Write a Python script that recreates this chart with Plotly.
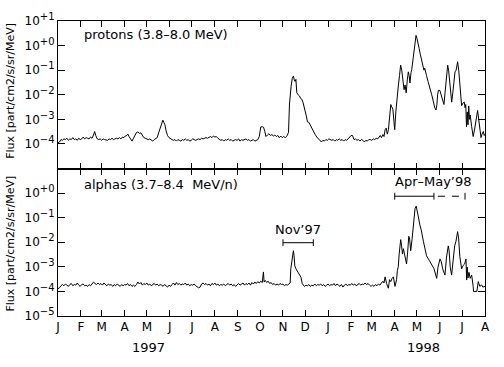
import pandas as pd
import plotly.graph_objects as go

# ---------------- data (day offset from 1997-01-01, flux) ----------------
p_day = [
    0, 2, 4, 6, 8, 10, 12, 14, 16, 18,
    20, 22, 24, 26, 28, 30, 32, 34, 36, 38,
    40, 42, 44, 46, 48, 49.5, 51, 53, 55, 57,
    59, 61, 63, 65, 67, 69, 71, 73, 75, 77,
    79, 81, 83, 85, 87, 89, 91, 93, 94.5, 96,
    98, 100, 102, 104, 106, 108, 110, 112, 114, 116,
    118, 120, 122, 124, 126, 128, 130, 132, 134, 136,
    138, 140, 141.7, 143, 144.5, 146, 148, 150, 152, 154,
    156, 158, 160, 162, 164, 166, 168, 170, 172, 174,
    176, 178, 180, 182, 184, 186, 188, 190, 192, 194,
    196, 198, 200, 202, 204, 206, 208, 210, 212, 214,
    216, 218, 220, 222, 224, 226, 228, 230, 232, 234,
    236, 238, 240, 242, 244, 246, 248, 250, 252, 254,
    256, 258, 260, 262, 264, 266, 268, 270, 272, 274,
    276, 277.7, 279.5, 281, 283, 285, 287, 289, 291, 293,
    295, 297, 299, 301, 303, 305, 307, 309, 310.5, 311.5,
    312.8, 313.8, 315, 316.5, 318.2, 319.2, 320.4, 321.5, 322.7, 324.5,
    326.3, 328, 329.4, 331, 332.5, 333.9, 335.5, 337.1, 339, 340.7,
    342.5, 344, 345.5, 347.5, 349.7, 352, 354, 356, 358, 360,
    362, 364, 366, 368, 370, 372, 374, 376, 378, 380,
    382, 384, 386, 388, 390, 392, 394, 396, 398, 400,
    402, 404, 406, 408, 410, 412, 414, 416, 418, 420,
    422, 424, 426, 428, 430, 432, 434, 435.5, 437, 439,
    440.5, 442, 443.5, 445, 446.5, 448, 449.7, 451, 452.5, 454,
    455, 456.5, 458.5, 460, 461.5, 463, 464.5, 466, 467.6, 469,
    470.5, 472, 473.4, 474.5, 475.6, 477, 478, 480, 482, 483.8,
    485, 486.5, 488, 489.5, 491.5, 493, 494.5, 495.5, 496.5, 498,
    500, 502.7, 505, 507, 509, 510.8, 512, 513, 514, 516,
    517.5, 519, 520, 521.5, 523, 524.3, 525.5, 526.6, 527.8, 529,
    530.6, 532, 533.5, 535, 536.5, 538, 540, 541.5, 543, 545.4,
    547, 549, 550, 551, 552, 553, 554, 555, 556, 557,
    559, 561, 563, 565, 567, 568.5, 570, 571.6, 573, 574.7,
    576, 577,
]
p_flux = [
    1.1e-4, 1.2e-4, 1.5e-4, 1.4e-4, 1.6e-4, 1.5e-4, 1.7e-4, 1.4e-4, 1.6e-4, 1.5e-4,
    1.8e-4, 1.5e-4, 1.6e-4, 1.4e-4, 1.7e-4, 1.5e-4, 1.6e-4, 1.9e-4, 1.6e-4, 1.8e-4,
    1.7e-4, 1.6e-4, 1.9e-4, 1.7e-4, 2.3e-4, 3.2e-4, 2.2e-4, 1.6e-4, 1.5e-4, 1.6e-4,
    1.4e-4, 1.6e-4, 1.5e-4, 1.5e-4, 1.4e-4, 1.6e-4, 1.5e-4, 1.7e-4, 1.5e-4, 1.6e-4,
    1.7e-4, 1.6e-4, 1.8e-4, 1.6e-4, 1.9e-4, 1.8e-4, 2.1e-4, 2.2e-4, 2.5e-4, 2.0e-4,
    1.6e-4, 1.3e-4, 1.7e-4, 2.2e-4, 2.9e-4, 3.1e-4, 2.7e-4, 2.8e-4, 2.1e-4, 1.8e-4,
    1.7e-4, 1.6e-4, 1.5e-4, 1.6e-4, 1.4e-4, 1.3e-4, 1.5e-4, 1.7e-4, 1.8e-4, 2.8e-4,
    4.5e-4, 6.5e-4, 9.3e-4, 7.5e-4, 6.0e-4, 3.4e-4, 2.2e-4, 1.8e-4, 1.6e-4, 1.5e-4,
    1.4e-4, 1.5e-4, 1.3e-4, 1.5e-4, 1.4e-4, 1.3e-4, 1.5e-4, 1.4e-4, 1.6e-4, 1.4e-4,
    1.5e-4, 1.3e-4, 1.4e-4, 1.6e-4, 1.5e-4, 1.4e-4, 1.5e-4, 1.6e-4, 1.5e-4, 1.7e-4,
    1.6e-4, 1.7e-4, 1.8e-4, 1.7e-4, 1.9e-4, 2.0e-4, 1.8e-4, 2.1e-4, 1.9e-4, 2.0e-4,
    1.7e-4, 1.6e-4, 1.4e-4, 1.5e-4, 1.3e-4, 1.5e-4, 1.4e-4, 1.6e-4, 1.4e-4, 1.5e-4,
    1.3e-4, 1.4e-4, 1.5e-4, 1.4e-4, 1.6e-4, 1.3e-4, 1.5e-4, 1.4e-4, 1.5e-4, 1.6e-4,
    1.4e-4, 1.5e-4, 1.3e-4, 1.4e-4, 1.5e-4, 1.3e-4, 1.4e-4, 1.5e-4, 2.0e-4, 4.9e-4,
    5.0e-4, 4.8e-4, 3.2e-4, 2.0e-4, 2.3e-4, 2.6e-4, 2.2e-4, 2.4e-4, 2.1e-4, 2.3e-4,
    2.0e-4, 2.2e-4, 1.8e-4, 2.1e-4, 1.8e-4, 2.0e-4, 1.8e-4, 2.0e-4, 2.5e-4, 3.0e-4,
    4.2e-3, 1.6e-2, 2.2e-2, 4.6e-2, 5.8e-2, 4.0e-2, 3.5e-2, 4.2e-2, 1.2e-2, 1.0e-2,
    8.9e-3, 7.0e-3, 6.6e-3, 5.0e-3, 3.5e-3, 2.0e-3, 1.4e-3, 7.9e-4, 7.5e-4, 6.0e-4,
    4.6e-4, 4.0e-4, 2.8e-4, 2.4e-4, 1.9e-4, 1.6e-4, 1.5e-4, 1.2e-4, 1.4e-4, 1.3e-4,
    1.5e-4, 1.4e-4, 1.6e-4, 1.5e-4, 1.4e-4, 1.5e-4, 1.3e-4, 1.5e-4, 1.4e-4, 1.6e-4,
    1.4e-4, 1.5e-4, 1.3e-4, 1.5e-4, 1.4e-4, 1.6e-4, 1.8e-4, 2.2e-4, 2.2e-4, 1.5e-4,
    1.6e-4, 1.4e-4, 1.5e-4, 1.3e-4, 1.5e-4, 1.4e-4, 1.2e-4, 1.4e-4, 1.3e-4, 1.5e-4,
    1.5e-4, 1.4e-4, 1.6e-4, 1.5e-4, 1.7e-4, 1.6e-4, 1.9e-4, 2.2e-4, 1.8e-4, 2.4e-4,
    2.0e-4, 3.8e-4, 4.4e-4, 2.5e-4, 3.8e-4, 1.7e-3, 4.0e-3, 3.2e-3, 2.6e-3, 8.0e-4,
    3.8e-4, 2.0e-3, 1.2e-2, 2.5e-2, 6.0e-2, 1.6e-1, 1.0e-1, 4.0e-2, 1.6e-2, 2.5e-2,
    1.2e-2, 4.0e-2, 8.5e-2, 6.0e-2, 3.0e-2, 8.0e-2, 1.05e-1, 3.2e-1, 1.2, 2.6,
    2.0, 1.4, 7.7e-1, 4.5e-1, 2.3e-1, 1.5e-1, 1.0e-1, 1.2e-1, 8.0e-2, 6.0e-2,
    3.5e-2, 2.0e-2, 1.0e-2, 5.6e-3, 3.0e-3, 2.4e-3, 4.0e-3, 1.0e-2, 1.5e-2, 1.5e-2,
    1.1e-2, 6.5e-3, 5.6e-3, 4.0e-3, 1.2e-2, 2.5e-2, 8.0e-2, 1.6e-1, 1.0e-1, 4.0e-2,
    9.0e-3, 5.0e-3, 1.2e-2, 3.0e-2, 8.5e-2, 1.0e-1, 2.2e-1, 1.0e-1, 2.5e-2, 3.6e-3,
    4.5e-3, 5.0e-3, 3.0e-3, 4.0e-3, 5.0e-4, 2.0e-3, 6.0e-4, 3.5e-3, 1.0e-3, 1.5e-3,
    5.0e-4, 2.0e-4, 4.0e-4, 1.25e-3, 2.3e-3, 1.0e-3, 4.0e-4, 1.8e-4, 2.5e-4, 3.2e-4,
    2.2e-4, 2.5e-4,
]

a_day = [
    0, 2, 4, 6, 8, 10, 12, 14, 16, 18,
    20, 22, 24, 26, 28, 30, 32, 34, 36, 38,
    40, 42, 44, 46, 48, 50, 52, 54, 56, 58,
    60, 62, 64, 66, 68, 70, 72, 74, 76, 78,
    80, 82, 84, 86, 88, 90, 92, 94, 96, 98,
    100, 102, 104, 106, 108, 110, 112, 114, 116, 118,
    120, 122, 124, 126, 128, 130, 132, 134, 136, 138,
    140, 142, 144, 146, 148, 150, 152, 154, 156, 158,
    160, 162, 164, 166, 168, 170, 172, 174, 176, 178,
    180, 182, 184, 186, 188, 190, 192, 194, 196, 198,
    200, 202, 204, 206, 208, 210, 212, 214, 216, 218,
    220, 222, 224, 226, 228, 230, 232, 234, 236, 238,
    240, 242, 244, 246, 248, 250, 252, 254, 256, 258,
    260, 262, 264, 266, 268, 270, 272, 274, 276, 277.6,
    278.5, 280, 282, 284, 286, 288, 290, 292, 294, 296,
    298, 300, 302, 304, 306, 308, 310, 312, 313.7, 314.6,
    316.4, 318.1, 319, 320, 321.5, 323, 324.5, 325.7, 327, 328.3,
    330, 331.5, 333, 335, 337, 339, 341, 343, 345, 347,
    349, 351, 353, 355, 357, 359, 361, 363, 365, 367,
    369, 371, 373, 375, 377, 379, 381, 383, 385, 387,
    389, 391, 393, 395, 397, 399, 401, 403, 405, 407,
    409, 411, 413, 415, 417, 419, 421, 423, 425, 427,
    429, 431, 433, 435, 437, 439, 440.5, 442, 444, 446.4,
    448, 449.6, 451.5, 453.2, 455.4, 457.5, 458.6, 459.8, 461, 463.1,
    464.3, 465.5, 466.7, 468, 469.5, 471, 472.5, 474, 475, 476.6,
    478.4, 480, 481.5, 482.5, 484, 485.5, 487, 489, 490.8, 493.7,
    496, 498, 501.8, 505, 508, 511.7, 513.5, 516.2, 518, 519.8,
    521.5, 522.9, 525, 527.4, 528.5, 530, 531.9, 534, 536, 537.8,
    540, 541.3, 543, 545.4, 547.5, 549.5, 551.3, 552.2, 553, 554,
    555.3, 557, 559, 561, 561.5, 566, 567.9, 570, 572.4, 574,
    577,
]
a_flux = [
    1.3e-4, 1.4e-4, 1.7e-4, 1.9e-4, 1.7e-4, 2.0e-4, 1.8e-4, 1.6e-4, 1.9e-4, 2.1e-4,
    1.7e-4, 1.9e-4, 1.8e-4, 2.2e-4, 1.8e-4, 1.6e-4, 1.9e-4, 2.0e-4, 1.7e-4, 1.8e-4,
    1.6e-4, 1.9e-4, 1.7e-4, 2.0e-4, 2.4e-4, 2.1e-4, 1.9e-4, 2.2e-4, 1.9e-4, 2.1e-4,
    1.8e-4, 2.2e-4, 1.9e-4, 1.7e-4, 2.0e-4, 1.8e-4, 1.9e-4, 1.6e-4, 1.9e-4, 1.7e-4,
    2.0e-4, 1.8e-4, 1.6e-4, 1.9e-4, 1.7e-4, 1.9e-4, 1.8e-4, 2.1e-4, 1.7e-4, 1.9e-4,
    1.6e-4, 1.8e-4, 1.6e-4, 1.9e-4, 2.4e-4, 2.0e-4, 2.3e-4, 1.8e-4, 2.1e-4, 1.9e-4,
    2.2e-4, 1.8e-4, 2.0e-4, 1.7e-4, 1.9e-4, 2.1e-4, 1.8e-4, 2.0e-4, 1.7e-4, 1.9e-4,
    1.8e-4, 1.6e-4, 1.9e-4, 1.7e-4, 1.5e-4, 1.8e-4, 1.6e-4, 1.9e-4, 2.2e-4, 1.8e-4,
    2.3e-4, 1.9e-4, 2.1e-4, 1.8e-4, 2.0e-4, 1.9e-4, 2.2e-4, 1.8e-4, 2.0e-4, 1.7e-4,
    1.9e-4, 1.8e-4, 2.0e-4, 1.7e-4, 1.5e-4, 1.4e-4, 1.5e-4, 2.0e-4, 2.2e-4, 1.9e-4,
    2.1e-4, 1.8e-4, 2.0e-4, 1.7e-4, 2.1e-4, 1.9e-4, 2.2e-4, 1.8e-4, 2.0e-4, 1.7e-4,
    1.9e-4, 1.8e-4, 2.0e-4, 1.7e-4, 1.9e-4, 2.1e-4, 1.8e-4, 2.0e-4, 1.7e-4, 1.9e-4,
    1.6e-4, 1.9e-4, 2.1e-4, 1.8e-4, 2.0e-4, 2.2e-4, 1.8e-4, 2.1e-4, 1.9e-4, 2.2e-4,
    1.8e-4, 2.3e-4, 2.0e-4, 2.4e-4, 2.1e-4, 2.5e-4, 2.2e-4, 2.6e-4, 2.3e-4, 6.2e-4,
    2.4e-4, 2.8e-4, 2.3e-4, 2.6e-4, 2.1e-4, 2.3e-4, 1.9e-4, 2.1e-4, 1.8e-4, 2.0e-4,
    1.8e-4, 2.1e-4, 1.9e-4, 2.0e-4, 1.7e-4, 1.9e-4, 1.8e-4, 2.0e-4, 2.2e-4, 8.3e-4,
    2.8e-3, 4.5e-3, 2.8e-3, 1.1e-3, 8.3e-4, 7.0e-4, 5.9e-4, 5.3e-4, 4.5e-4, 3.8e-4,
    2.1e-4, 1.9e-4, 1.6e-4, 1.8e-4, 1.7e-4, 1.9e-4, 1.6e-4, 1.8e-4, 1.7e-4, 2.0e-4,
    1.7e-4, 1.9e-4, 1.8e-4, 2.0e-4, 1.7e-4, 1.9e-4, 1.6e-4, 1.8e-4, 2.0e-4, 1.7e-4,
    1.9e-4, 1.8e-4, 2.1e-4, 1.7e-4, 2.0e-4, 1.8e-4, 1.6e-4, 1.9e-4, 1.5e-4, 1.8e-4,
    2.0e-4, 1.7e-4, 1.9e-4, 1.8e-4, 2.1e-4, 1.8e-4, 2.0e-4, 1.7e-4, 1.9e-4, 2.1e-4,
    1.8e-4, 2.0e-4, 1.9e-4, 2.2e-4, 1.9e-4, 2.1e-4, 1.8e-4, 1.6e-4, 1.8e-4, 1.6e-4,
    1.9e-4, 1.7e-4, 2.0e-4, 1.8e-4, 2.2e-4, 2.6e-4, 2.2e-4, 3.9e-4, 2.1e-4, 1.35e-4,
    3.0e-4, 2.5e-4, 3.4e-4, 3.9e-4, 1.6e-4, 3.0e-4, 7.2e-4, 1.0e-3, 3.3e-3, 1.28e-2,
    7.1e-3, 3.3e-3, 5.5e-3, 3.8e-3, 2.5e-3, 1.3e-3, 4.0e-3, 1.74e-2, 1.5e-2, 4.5e-3,
    1.28e-2, 3.7e-2, 7.0e-2, 2.4e-1, 2.94e-1, 1.9e-1, 1.07e-1, 5.0e-2, 3.2e-2, 1.1e-2,
    5.5e-3, 2.8e-3, 1.8e-3, 1.3e-3, 8.5e-4, 3.4e-4, 9.7e-4, 2.1e-3, 1.6e-3, 8.3e-4,
    5.5e-4, 4.6e-4, 2.5e-3, 7.1e-3, 4.5e-3, 9.7e-4, 4.6e-4, 2.1e-3, 7.1e-3, 1.1e-2,
    2.7e-2, 1.5e-2, 2.6e-3, 8.3e-4, 1.15e-3, 1.3e-3, 2.1e-3, 2.9e-4, 9.7e-4, 3.5e-4,
    6.0e-4, 3.4e-4, 4.6e-4, 1.6e-4, 1.0e-4, 1.0e-4, 2.5e-4, 1.6e-4, 1.84e-4, 1.5e-4,
    1.6e-4,
]
assert len(p_day) == len(p_flux), (len(p_day), len(p_flux))
assert len(a_day) == len(a_flux), (len(a_day), len(a_flux))

start_date = "1997-01-01"
end_date = "1998-08-01"
month_ticks = pd.date_range(start_date, end_date, freq="MS")
month_letters = ["J", "F", "M", "A", "M", "J", "J", "A", "S", "O", "N", "D",
                 "J", "F", "M", "A", "M", "J", "J", "A"]
year_labels = ["1997", "1998"]

top_exps = ["+1", "+0", "\u22121", "\u22122", "\u22123", "\u22124"]
top_tickvals = [1e1, 1e0, 1e-1, 1e-2, 1e-3, 1e-4]
bot_exps = ["+0", "\u22121", "\u22122", "\u22123", "\u22124", "\u22125"]
bot_tickvals = [1e0, 1e-1, 1e-2, 1e-3, 1e-4, 1e-5]

nov_event = ("1997-11-01", "1997-12-12")
aprmay_event = ("1998-04-01", "1998-05-24", "1998-07-05")


def pow_label(e):
    return "10<sup><span style='font-size:10px'>" + e + "</span></sup>"


# ---------------- figure ----------------
base = pd.Timestamp(start_date)
p_x = base + pd.to_timedelta(p_day, unit="D")
a_x = base + pd.to_timedelta(a_day, unit="D")

FONT = "DejaVu Sans"
fig = go.Figure()
fig.add_trace(go.Scatter(x=p_x, y=p_flux, mode="lines", line=dict(color="black", width=1),
                         xaxis="x", yaxis="y", showlegend=False, hoverinfo="skip"))
fig.add_trace(go.Scatter(x=a_x, y=a_flux, mode="lines", line=dict(color="black", width=1),
                         xaxis="x2", yaxis="y2", showlegend=False, hoverinfo="skip"))

xcommon = dict(type="date", range=[start_date, end_date], showline=True, linecolor="black",
               linewidth=1, mirror="ticks", ticks="inside", ticklen=6, tickcolor="black",
               tickvals=month_ticks, ticktext=month_letters, showgrid=False, zeroline=False,
               tickfont=dict(family=FONT, size=12, color="black"))
ycommon = dict(type="log", range=[-5, 1], showline=True, linecolor="black", linewidth=1,
               mirror="ticks", ticks="inside", ticklen=7, tickcolor="black", showgrid=False,
               zeroline=False, tickfont=dict(family=FONT, size=12, color="black"))

fig.update_layout(
    width=504, height=367,
    margin=dict(l=58, r=19, t=11, b=51),
    paper_bgcolor="white", plot_bgcolor="white",
    font=dict(family=FONT, color="black"),
    xaxis=dict(xcommon, domain=[0, 1], anchor="y", showticklabels=False),
    xaxis2=dict(xcommon, domain=[0, 1], anchor="y2", matches="x"),
    yaxis=dict(ycommon, domain=[0.5, 1], anchor="x", tickvals=top_tickvals,
               ticktext=[pow_label(e) for e in top_exps]),
    yaxis2=dict(ycommon, domain=[0, 0.5], anchor="x2", tickvals=bot_tickvals,
                ticktext=[pow_label(e) for e in bot_exps]),
)

ann = []
ann.append(dict(text="protons (3.8\u20138.0 MeV)", xref="paper", yref="y domain", x=0.056, y=0.91,
                xanchor="left", yanchor="middle", showarrow=False, font=dict(size=13)))
ann.append(dict(text="alphas (3.7\u20138.4\u00a0\u00a0MeV/n)", xref="paper", yref="y2 domain", x=0.056, y=0.89,
                xanchor="left", yanchor="middle", showarrow=False, font=dict(size=13)))
for yc in (0.764, 0.246):
    ann.append(dict(text="Flux [part/cm2/s/sr/MeV]", xref="paper", yref="paper", x=-0.112, y=yc,
                    xanchor="center", yanchor="middle", textangle=-90, showarrow=False,
                    font=dict(size=11)))
ann.append(dict(text=year_labels[0], xref="paper", yref="paper", x=0.211, y=-0.108,
                xanchor="center", yanchor="middle", showarrow=False, font=dict(size=13)))
ann.append(dict(text=year_labels[1], xref="paper", yref="paper", x=0.857, y=-0.108,
                xanchor="center", yanchor="middle", showarrow=False, font=dict(size=13)))

nov_mid = pd.Timestamp(nov_event[0]) + (pd.Timestamp(nov_event[1]) - pd.Timestamp(nov_event[0])) / 2
ann.append(dict(text="Nov\u201997", xref="x2", yref="y2 domain", x=nov_mid, y=0.584,
                xanchor="center", yanchor="middle", showarrow=False, font=dict(size=13)))
ann.append(dict(text="Apr\u2013May\u201998", xref="x2", yref="y2 domain", x=aprmay_event[1], y=0.915,
                xanchor="center", yanchor="middle", showarrow=False, font=dict(size=13)))
fig.update_layout(annotations=ann)

shp = []
line = dict(color="black", width=1)
# Nov'97 bracket
yb, cap = 0.497, 0.023
shp.append(dict(type="line", xref="x2", yref="y2 domain", x0=nov_event[0], x1=nov_event[1], y0=yb, y1=yb, line=line))
for xd in nov_event:
    shp.append(dict(type="line", xref="x2", yref="y2 domain", x0=xd, x1=xd, y0=yb - cap, y1=yb + cap, line=line))
# Apr-May'98 bracket
yb2 = 0.812
shp.append(dict(type="line", xref="x2", yref="y2 domain", x0=aprmay_event[0], x1=aprmay_event[1], y0=yb2, y1=yb2, line=line))
shp.append(dict(type="line", xref="x2", yref="y2 domain", x0=aprmay_event[1], x1=aprmay_event[2], y0=yb2, y1=yb2,
                line=dict(color="black", width=1, dash="0px,4px,7px,3px")))
for xd in aprmay_event:
    shp.append(dict(type="line", xref="x2", yref="y2 domain", x0=xd, x1=xd, y0=yb2 - cap, y1=yb2 + cap, line=line))
fig.update_layout(shapes=shp)

fig.write_html("out.html", config={"displayModeBar": False},
               post_script="document.body.style.margin='0';")
